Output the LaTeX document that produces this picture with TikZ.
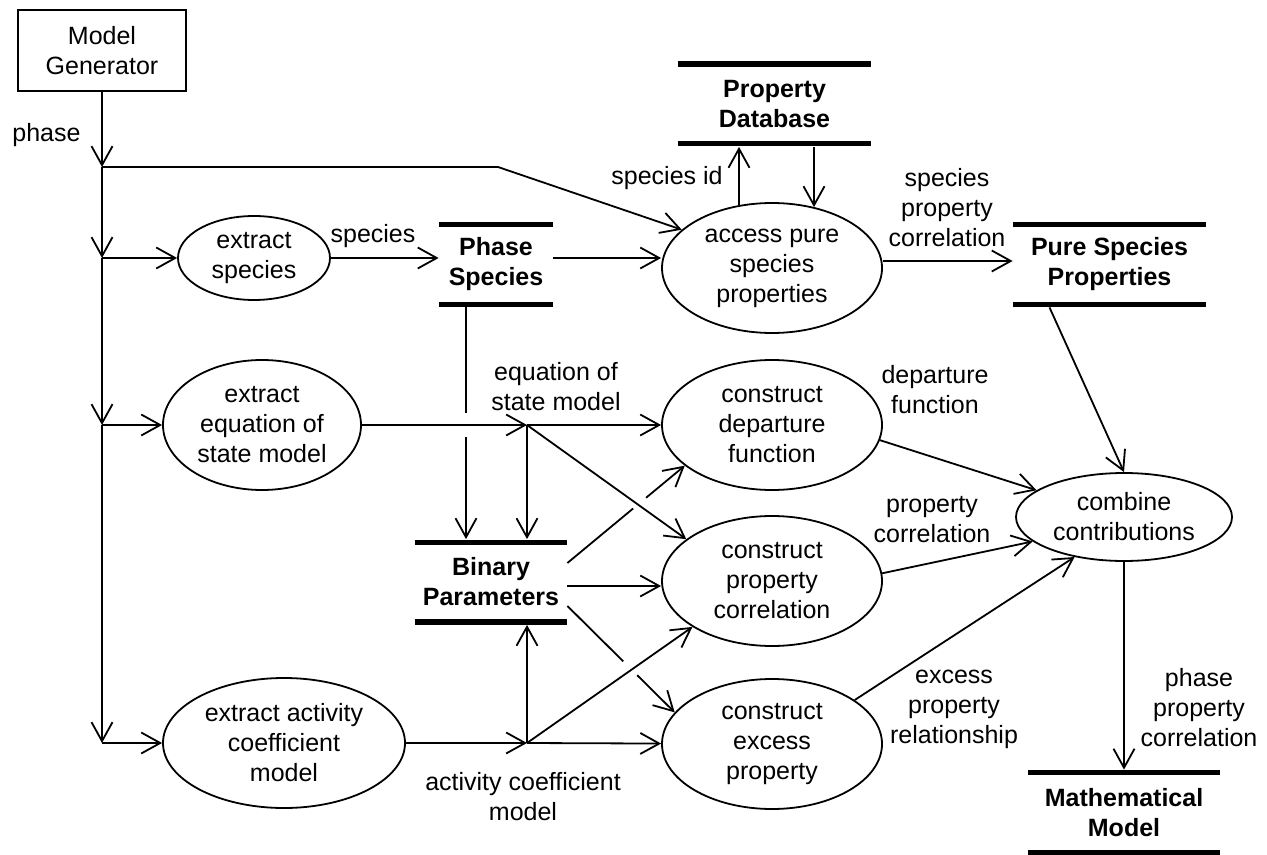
\documentclass[tikz,border=0pt]{standalone}
\usepackage{fontspec}
\setmainfont{Liberation Sans}
\usetikzlibrary{shapes.geometric}
\usetikzlibrary{arrows.meta}
\usetikzlibrary{calc}
\tikzset{>={Straight Barb[length=9.5pt,width=10.5pt]}}
\newcommand{\fsize}{\fontsize{12.5}{15}\selectfont}
\tikzstyle{proc}=[draw,ellipse,line width=0.9pt,inner sep=0pt,align=center]
\tikzstyle{store}=[inner sep=0pt,minimum height=39.5pt,align=center,font=\fsize\bfseries]
\tikzstyle{lbl}=[inner sep=0pt,align=center]
\tikzstyle{flow}=[->,line width=0.9pt]
\tikzstyle{bar}=[line width=2.6pt]

\begin{document}
\begin{tikzpicture}[x=0.5pt,y=-0.5pt,font=\fsize]
  \useasboundingbox (0,0) rectangle (1267,855);

  % source and data stores
  \node[draw,line width=0.9pt,minimum width=84pt,minimum height=40.5pt,align=center] (mg) at (102,50.5) {Model\\Generator};
  \node[store,minimum width=96.5pt] (pdb) at (774.5,104) {Property\\Database};
  \node[store,minimum width=57pt] (ps) at (496,264.5) {Phase\\Species};
  \node[store,minimum width=96.5pt] (pspr) at (1109.5,264.5) {Pure Species\\Properties};
  \node[store,minimum width=76pt] (bp) at (491,582) {Binary\\Parameters};
  \node[store,minimum width=96pt] (mm) at (1124,812.5) {Mathematical\\Model};
  \foreach \s in {pdb,ps,pspr,bp,mm}
    \draw[bar] (\s.north west) -- (\s.north east) (\s.south west) -- (\s.south east);

  % processes
  \node[proc,minimum width=76pt,minimum height=42pt] (es) at (254,258) {extract\\species};
  \node[proc,minimum width=99pt,minimum height=65pt] (eos) at (262,425) {extract\\equation of\\state model};
  \node[proc,minimum width=121pt,minimum height=65pt] (act) at (284,743) {extract activity\\coefficient\\model};
  \node[proc,minimum width=110pt,minimum height=65pt] (aps) at (772,268) {access pure\\species\\properties};
  \node[proc,minimum width=110pt,minimum height=65pt] (cdf) at (772,425) {construct\\departure\\function};
  \node[proc,minimum width=110pt,minimum height=65pt] (cpc) at (772,581) {construct\\property\\correlation};
  \node[proc,minimum width=110pt,minimum height=65pt] (cex) at (772,744) {construct\\excess\\property};
  \node[proc,minimum width=108pt,minimum height=44pt] (comb) at (1124,517) {combine\\contributions};

  % branch points
  \coordinate (j0) at (102,167);
  \coordinate (j1) at (102,258);
  \coordinate (j2) at (102,425);
  \coordinate (j3) at (102,743);
  \coordinate (bend) at (498,167);
  \coordinate (je) at (527,425);
  \coordinate (ja) at (527,743);
  \coordinate (bpa) at ($(bp.east)+(0,-19)$);
  \coordinate (bpb) at ($(bp.east)+(0,24)$);

  % phase trunk
  \draw[flow] (mg) -- (j0);
  \draw[flow] (j0) -- (j1);
  \draw[flow] (j1) -- (j2);
  \draw[flow] (j2) -- (j3);
  \draw[flow] (j0) -- (bend) -- (aps.157);
  \draw[flow] (j1) -- (es);
  \draw[flow] (j2) -- (eos);
  \draw[flow] (j3) -- (act);

  % species and pure properties
  \draw[flow] (es) -- (es -| ps.west);
  \draw[flow] (ps.east |- es) -- (aps.west |- es);
  \draw[flow] ($(aps.north)+(-33,3)$) -- ($(pdb.south)+(-35.5,3)$);
  \draw[flow] ($(pdb.south)+(39.5,3)$) -- ($(aps.north)+(42,5)$);
  \draw[flow] ($(aps.east)+(0,-7)$) -- ($(pspr.west)+(0,-3.5)$);
  \draw[flow] ($(ps.south)+(-30,3)$) -- ($(ps.south)+(-30,109)$)
    ($(bp.north)+(-25,-105)$) -- ($(bp.north)+(-25,-3)$);

  % equation of state branch
  \draw[flow] (eos) -- (je);
  \draw[flow] (je) -- (cdf);
  \draw[flow] (je) -- ($(je |- bp.north)+(0,-3)$);
  \draw[flow] (je) -- (cpc.154);

  % binary parameters (with line hops)
  \draw[line width=0.9pt] (bpa) -- ($(bpa)!0.56!(cdf.205)$);
  \draw[flow] ($(bpa)!0.67!(cdf.205)$) -- (cdf.205);
  \draw[flow] ($(bp.east)+(0,4)$) -- ($(cpc.west)+(0,5)$);
  \draw[line width=0.9pt] (bpb) -- ($(bpb)!0.52!(cex.162)$);
  \draw[flow] ($(bpb)!0.65!(cex.162)$) -- (cex.162);

  % activity coefficient branch
  \draw[flow] (act) -- (ja);
  \draw[flow] (ja) -- (cex);
  \draw[flow] (ja) -- ($(ja |- bp.south)+(0,3)$);
  \draw[flow] (ja) -- (cpc.210);

  % contributions
  \draw[flow] (cdf.352) -- (comb.163);
  \draw[flow] (cpc.4) -- (comb.195);
  \draw[flow] (cex.28) -- (comb.219);
  \draw[flow] ($(pspr.south)+(-60,3)$) -- (comb.north);
  \draw[flow] (comb) -- ($(mm.north)+(0,-3)$);

  % flow labels
  \node[lbl,anchor=west] (lphase) at (12,135) {phase};
  \node[lbl] (lspec) at (373,236) {species};
  \node[lbl] (lsid) at (667,178) {species id};
  \node[lbl] (lspc) at (947,208) {species\\property\\correlation};
  \node[lbl] (leos) at (556,387) {equation of\\state model};
  \node[lbl] (ldep) at (935,390) {departure\\function};
  \node[lbl] (lpc) at (932,520) {property\\correlation};
  \node[lbl] (lexc) at (954,709) {excess\\property\\relationship};
  \node[lbl] (lppc) at (1199,708) {phase\\property\\correlation};
  \node[lbl] (lact) at (523,797) {activity coefficient\\model};
\end{tikzpicture}
\end{document}
